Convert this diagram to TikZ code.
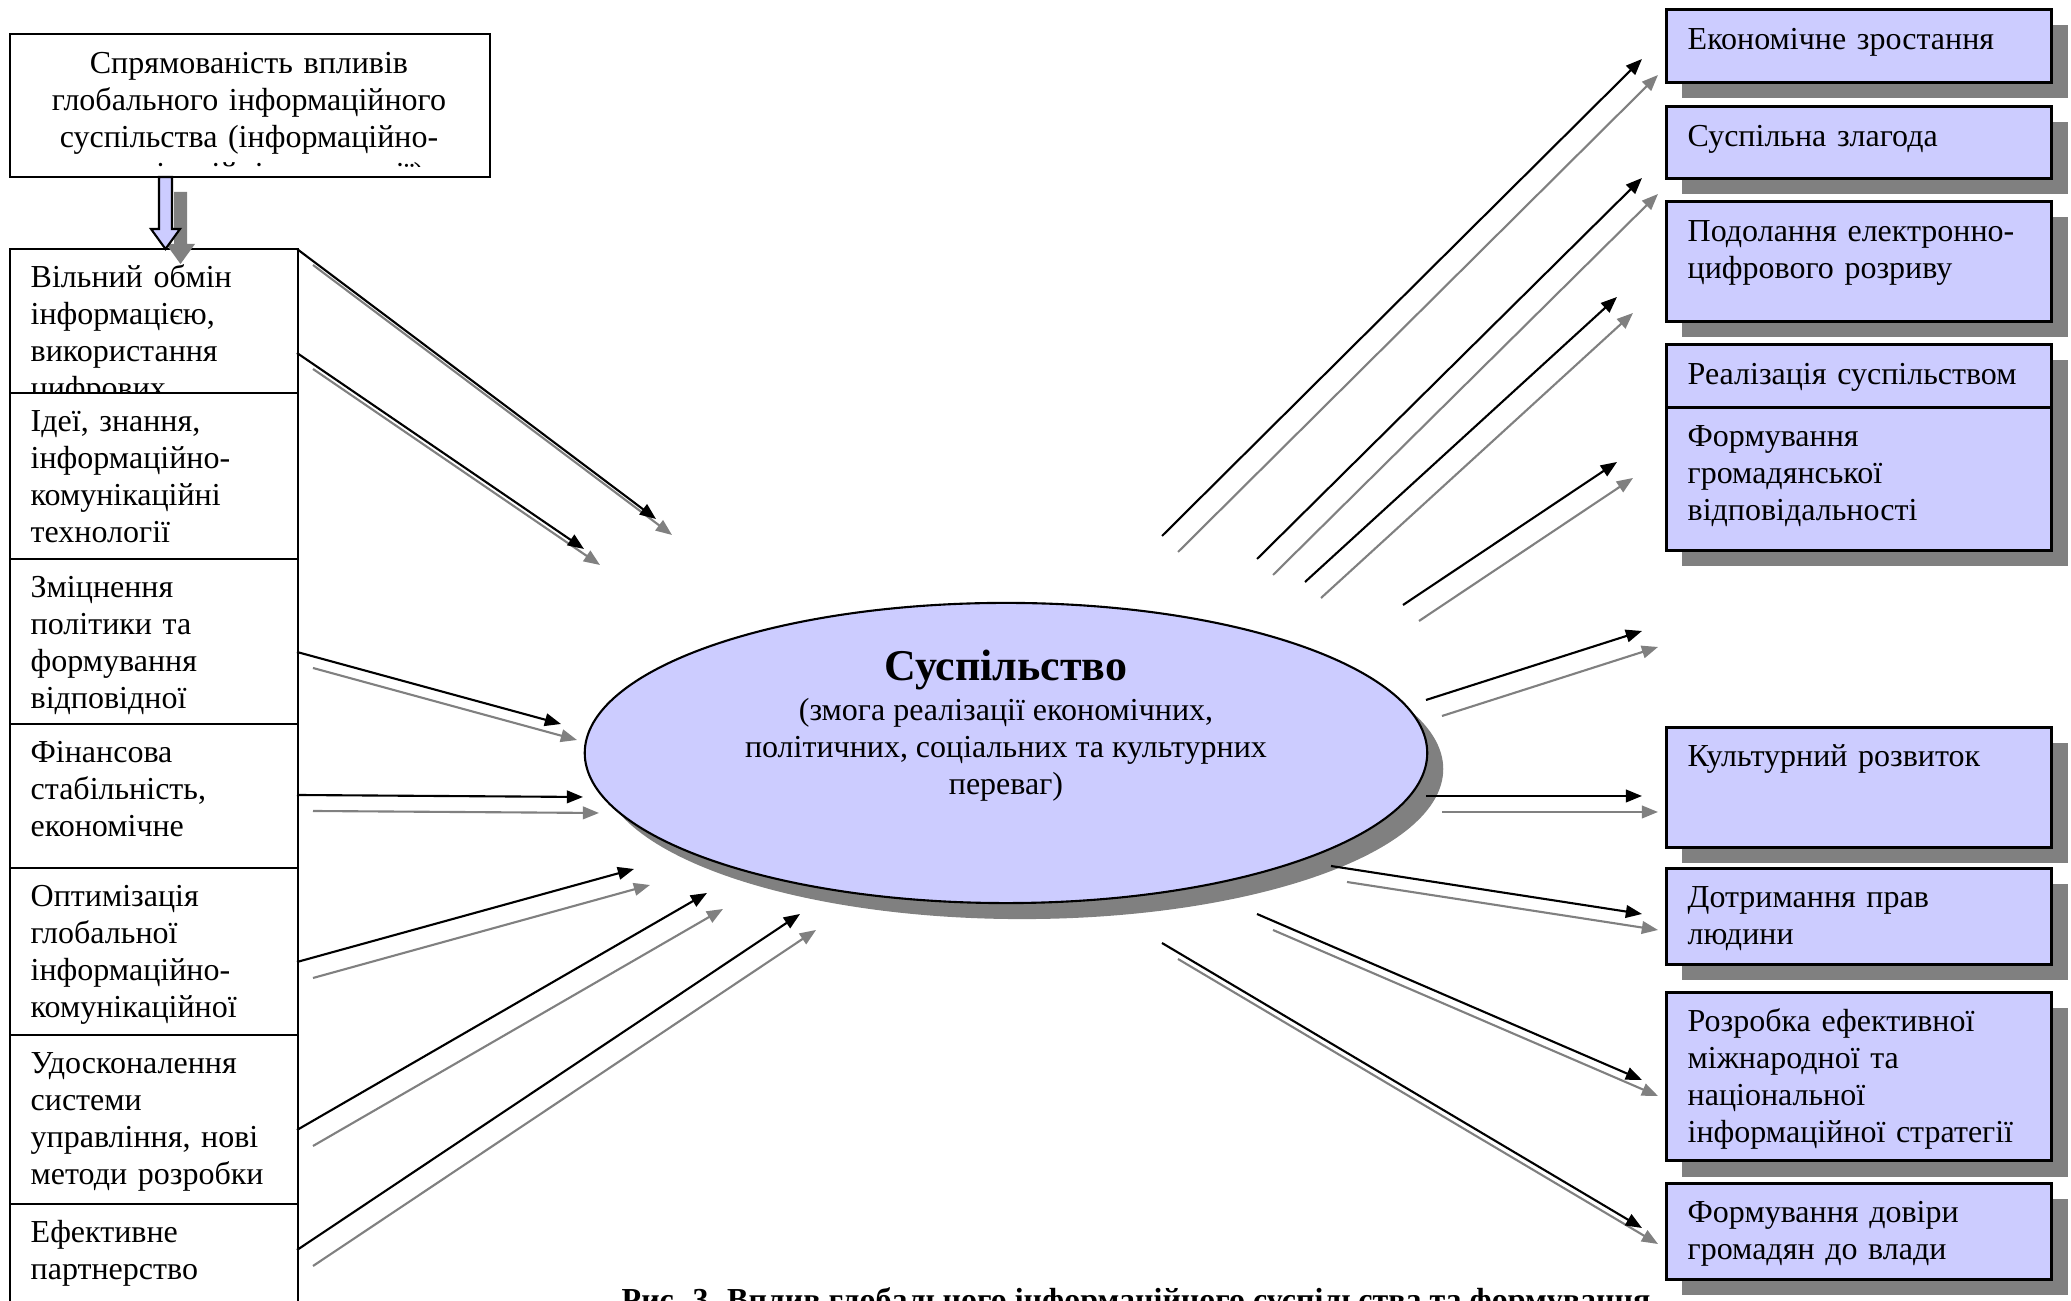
\documentclass[tikz,border=0pt]{standalone}
\usepackage{fontspec}
\setmainfont{Liberation Serif}
\usetikzlibrary{arrows.meta, shadows, shapes.geometric, positioning}
\definecolor{lavender}{HTML}{CCCCFF}
\definecolor{shadowgray}{HTML}{808080}
\tikzset{>={Triangle[length=4.6pt,width=3.6pt]}}
\newcommand{\basefont}{\fontsize{9.1}{10.5}\selectfont}

\begin{document}
\begin{tikzpicture}[x=0.01cm, y=-0.01cm, font=\basefont,
  lbox/.style={draw, fill=white, line width=0.6pt, anchor=north west, inner sep=0pt, minimum width=2.88cm},
  rbox/.style={draw, fill=lavender, line width=0.8pt, anchor=north west, inner sep=0pt, minimum width=3.85cm,
    drop shadow={shadow xshift=0.16cm, shadow yshift=-0.16cm, fill=shadowgray, opacity=1}},
  boxtext/.style={anchor=north west, inner sep=0pt, text width=3.8cm, align=left, execute at begin node=\strut},
  link/.style={->, line width=0.6pt},
  linkshade/.style={->, line width=0.6pt, shadowgray}]

\useasboundingbox (0,0) rectangle (2071,1301);

% right column: results
\node[rbox, minimum height=0.73cm] (r1) at (1665,8) {};
\node[boxtext] (r1t) at ([shift={(22,15)}]r1.north west) {Економічне зростання};
\node[rbox, minimum height=0.72cm] (r2) at (1665,105) {};
\node[boxtext] (r2t) at ([shift={(22,15)}]r2.north west) {Суспільна злагода};
\node[rbox, minimum height=1.20cm] (r3) at (1665,200) {};
\node[boxtext] (r3t) at ([shift={(22,15)}]r3.north west) {Подолання електронно-\\цифрового розриву};
\node[rbox, minimum height=1.10cm] (r4) at (1665,343) {};
\node[boxtext] (r4t) at ([shift={(22,15)}]r4.north west) {Реалізація суспільством};
\node[rbox, minimum height=1.43cm] (r5) at (1665,406) {};
\node[boxtext] (r5t) at ([shift={(22,14)}]r5.north west) {Формування\\громадянської\\відповідальності};
\node[rbox, minimum height=1.20cm] (r6) at (1665,726) {};
\node[boxtext] (r6t) at ([shift={(22,14)}]r6.north west) {Культурний розвиток};
\node[rbox, minimum height=0.96cm] (r7) at (1665,867) {};
\node[boxtext] (r7t) at ([shift={(22,14)}]r7.north west) {Дотримання прав\\людини};
\node[rbox, minimum height=1.68cm] (r8) at (1665,991) {};
\node[boxtext] (r8t) at ([shift={(22,14)}]r8.north west) {Розробка ефективної\\міжнародної та\\національної\\інформаційної стратегії};
\node[rbox, minimum height=0.96cm] (r9) at (1665,1182) {};
\node[boxtext] (r9t) at ([shift={(22,14)}]r9.north west) {Формування довіри\\громадян до влади};

% source box
\node[draw, fill=white, line width=0.6pt, anchor=north west, inner sep=0pt, minimum width=4.8cm, minimum height=1.43cm] (src) at (9,33) {};
\begin{scope}
  \clip (9,33) rectangle (489,167);
  \node[anchor=north, inner sep=0pt, text width=4.6cm, align=center, execute at begin node=\strut] (srct) at (249,47)
    {Спрямованість впливів\\глобального інформаційного\\суспільства (інформаційно-\\комунікаційні технології)};
\end{scope}

% left column: factors
\node[lbox, minimum height=1.44cm] (l1) at (9,248) {};
\node[boxtext] (l1t) at ([shift={(21,13)}]l1.north west) {Вільний обмін\\інформацією,\\використання\\цифрових};
\node[lbox, minimum height=1.66cm] (l2) at (9,392) {};
\node[boxtext] (l2t) at ([shift={(21,13)}]l2.north west) {Ідеї, знання,\\інформаційно-\\комунікаційні\\технології};
\node[lbox, minimum height=1.65cm] (l3) at (9,558) {};
\node[boxtext] (l3t) at ([shift={(21,13)}]l3.north west) {Зміцнення\\політики та\\формування\\відповідної};
\node[lbox, minimum height=1.44cm] (l4) at (9,723) {};
\node[boxtext] (l4t) at ([shift={(21,13)}]l4.north west) {Фінансова\\стабільність,\\економічне};
\node[lbox, minimum height=1.67cm] (l5) at (9,867) {};
\node[boxtext] (l5t) at ([shift={(21,13)}]l5.north west) {Оптимізація\\глобальної\\інформаційно-\\комунікаційної};
\node[lbox, minimum height=1.69cm] (l6) at (9,1034) {};
\node[boxtext] (l6t) at ([shift={(21,13)}]l6.north west) {Удосконалення\\системи\\управління, нові\\методи розробки};
\node[lbox, minimum height=1.30cm] (l7) at (9,1203) {};
\node[boxtext] (l7t) at ([shift={(21,13)}]l7.north west) {Ефективне\\партнерство};

% block arrow down
\fill[shadowgray, shift={(15,15)}] (159,177) -- (172,177) -- (172,229) -- (180,229) -- (165.5,249) -- (151,229) -- (159,229) -- cycle;
\draw[fill=lavender, line width=0.6pt] (159,177) -- (172,177) -- (172,229) -- (180,229) -- (165.5,249) -- (151,229) -- (159,229) -- cycle;

% society
\node[ellipse, draw, fill=lavender, line width=0.6pt, inner sep=0pt, minimum width=8.42cm, minimum height=3.0cm,
  drop shadow={shadow xshift=0.16cm, shadow yshift=-0.16cm, fill=shadowgray, opacity=1}] (soc) at (1006,753) {};
\node[font=\fontsize{12.5}{14}\selectfont\bfseries, anchor=base] (soct) at (1006,681) {Суспільство};
\node[anchor=north, inner sep=0pt, align=center] (socs) at (1006,698)
  {(змога реалізації економічних,\\політичних, соціальних та культурних\\переваг)};

% influences and results
\foreach \n/\sx/\sy/\ex/\ey in {
  l1/297/249/656/519, l2/297/353/584/549, l3/297/652/561/724, l4/297/795/583/797,
  l5/297/962/634/869, l6/297/1130/707/893, l7/297/1250/800/914,
  r1/1162/536/1642/59, r2/1257/559/1642/178, r3/1305/582/1617/297, r4/1403/605/1617/462,
  r5/1426/700/1642/631, r6/1426/796/1642/796, r7/1331/866/1642/914, r8/1257/914/1642/1080,
  r9/1162/943/1642/1228}{
  \coordinate (s\n) at (\sx,\sy);
  \coordinate (e\n) at (\ex,\ey);
  \draw[linkshade] ([shift={(16,16)}]s\n) -- ([shift={(16,16)}]e\n);
  \draw[link] (s\n) -- (e\n);
}

\node[font=\basefont\bfseries, anchor=base west, inner sep=0pt] (cap) at (621,1311)
  {Рис. 3. Вплив глобального інформаційного суспільства та формування};
\end{tikzpicture}
\end{document}
